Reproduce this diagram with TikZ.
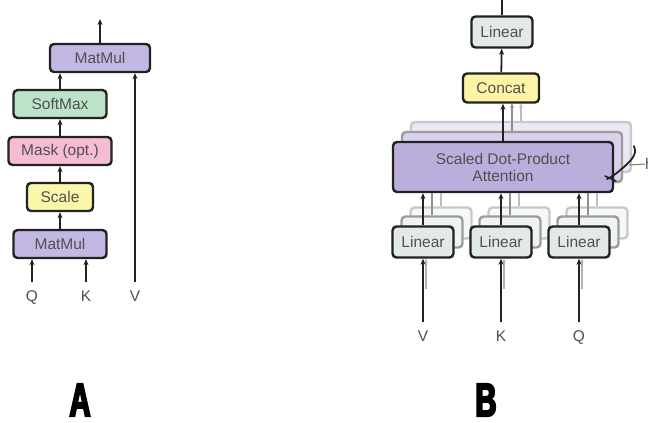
\documentclass[tikz,border=0pt]{standalone}
\usepackage{fontspec}
\setmainfont{Liberation Sans}
\newfontfamily\tagfont{Liberation Sans Bold}[FakeBold=4, FakeStretch=0.62]
\usetikzlibrary{arrows.meta}
\definecolor{mmfill}{HTML}{C3B7E3}
\definecolor{sdpafill}{HTML}{BBAEDD}
\definecolor{softfill}{HTML}{BDE3C8}
\definecolor{maskfill}{HTML}{F6BCD3}
\definecolor{scalefill}{HTML}{FAF6AA}
\definecolor{linfill}{HTML}{E2E9E6}
\definecolor{catfill}{HTML}{FCF5A5}
\definecolor{txt}{HTML}{505050}
\definecolor{edge}{HTML}{222222}
\tikzset{
  blk/.style={draw=edge, line width=2.4pt, rounded corners=4pt, inner sep=0pt,
    text=txt, font=\fontsize{15.5}{18}\selectfont, minimum height=28pt},
  ghost/.style={blk, draw=edge!45, fill=#1!55},
  ghostfar/.style={blk, draw=edge!25, fill=#1!30},
  lbl/.style={inner sep=1pt, text=txt, font=\fontsize{15.5}{18}\selectfont,
    text height=11.5pt, text depth=3pt},
  arr/.style={line width=1.8pt, draw=edge, -{Stealth[length=6pt,width=5pt]}},
  arrin/.style={arr, shorten <=7pt},
  arrg/.style={line width=1.6pt, draw=edge!50, -{Stealth[length=5pt,width=4pt]}},
  arrgg/.style={line width=1.4pt, draw=edge!30, -{Stealth[length=5pt,width=4pt]}},
  tag/.style={inner sep=0pt, font=\tagfont\fontsize{47}{52}\selectfont}
}
\begin{document}
\begin{tikzpicture}[x=1pt,y=-1pt]
\useasboundingbox (0,0) rectangle (648,423);

% ---------- scaled dot-product attention ----------
\node[blk, fill=mmfill, minimum width=100pt] (mmtop) at (100,58) {MatMul};
\node[blk, fill=softfill, minimum width=93pt] (soft) at (60,104) {SoftMax};
\node[blk, fill=maskfill, minimum width=103pt] (mask) at (60,151) {Mask (opt.)};
\node[blk, fill=scalefill, minimum width=66pt] (scale) at (60,197) {Scale};
\node[blk, fill=mmfill, minimum width=93pt] (mmbot) at (60,244) {MatMul};
\node[lbl] (qa) at (32,297) {Q};
\node[lbl] (ka) at (86,297) {K};
\node[lbl] (va) at (135,297) {V};
\coordinate (outa) at (100,19);

\draw[arrin] (qa.north) -- (qa.north |- mmbot.south);
\draw[arrin] (ka.north) -- (ka.north |- mmbot.south);
\draw[arrin] (va.north) -- (va.north |- mmtop.south);
\draw[arr] (mmbot) -- (scale);
\draw[arr] (scale) -- (mask);
\draw[arr] (mask) -- (soft);
\draw[arr] (soft.north) -- (soft.north |- mmtop.south);
\draw[arr] (mmtop) -- (outa);

% ---------- multi-head attention ----------
% input projections, back layers first
\foreach \n/\x in {v/423,k/501,q/579}{
  \node[ghostfar=linfill, minimum width=61pt, minimum height=31pt] (lin\n3) at (\x+18,223) {};
  \node[ghost=linfill, minimum width=61pt, minimum height=31pt] (lin\n2) at (\x+9,232) {};
  \node[blk, fill=linfill, minimum width=61pt, minimum height=31pt] (lin\n1) at (\x,242) {Linear};
}

% attention heads
\node[ghostfar=sdpafill, minimum width=220pt, minimum height=50pt] (att3) at (521,147) {};
\node[ghost=sdpafill, minimum width=220pt, minimum height=50pt] (att2) at (512,157) {};
\draw[arrgg] (att3.north) -- (att3.north |- 0,103);
\draw[arrg] (att2.north) -- (att2.north |- 0,103);
\node[blk, fill=sdpafill, minimum width=220pt, minimum height=50pt, align=center]
  (att1) at (503,167) {Scaled Dot-Product\\[-1pt]Attention};

\foreach \n in {v,k,q}{
  \draw[line width=1.4pt, draw=edge!30] (lin\n3.north) -- (lin\n3.north |- att1.south);
  \draw[line width=1.6pt, draw=edge!50] (lin\n2.north) -- (lin\n2.north |- att1.south);
  \draw[arr] (lin\n1.north) -- (lin\n1.north |- att1.south);
}

\node[blk, fill=catfill, minimum width=76pt, minimum height=29pt] (cat) at (501,88) {Concat};
\node[blk, fill=linfill, minimum width=61pt, minimum height=31pt] (linout) at (502,32) {Linear};
\coordinate (outb) at (502,0);

\draw[arr] (att1.north) -- (att1.north |- cat.south);
\draw[arr] (cat) -- (linout);
\draw[line width=1.8pt, draw=edge] (linout.north) -- (outb);

\node[lbl] (vb) at (423,337) {V};
\node[lbl] (kb) at (501,337) {K};
\node[lbl] (qb) at (579,337) {Q};
\foreach \n/\m in {vb/v,kb/k,qb/q}{
  \draw[line width=1.2pt, draw=edge!35, -{Stealth[length=4pt,width=3.5pt]}]
    ([xshift=3pt,yshift=40pt]\n.north) -- ([xshift=3pt]lin\m1.south);
  \draw[arrin] (\n.north) -- (\n.north |- lin\m1.south);
}

% head count brace
\draw[line width=1.8pt, draw=edge, line cap=round]
  (634,146) .. controls (637,152) and (634,158) .. (625,166)
  .. controls (617,173) and (612,177) .. (607,179);
\draw[line width=1.6pt, draw=edge, line cap=round] (605,176) -- (616,181);
\node[lbl, anchor=west, inner sep=0pt, text height=, text depth=] (hh) at (645,164) {h};
\draw[line width=1pt, draw=edge!60] (629,165) -- (hh.west);

% panel tags
\node[tag] (ta) at (80,400) {A};
\node[tag] (tb) at (486,400) {B};
\end{tikzpicture}
\end{document}
